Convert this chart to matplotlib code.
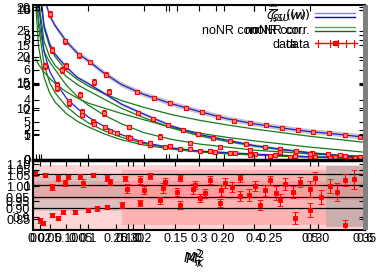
import numpy as np
import matplotlib.pyplot as plt
from matplotlib.lines import Line2D
from matplotlib.patches import Rectangle

plt.rcParams['font.family'] = ['Liberation Sans', 'DejaVu Sans']
plt.rcParams['font.size'] = 9
plt.rcParams['mathtext.fontset'] = 'dejavusans'

# --- model curves on a common M^2 grid ---
m2_grid = [0.005, 0.01, 0.02, 0.03, 0.04, 0.06, 0.08, 0.10, 0.13, 0.16, 0.20,
           0.25, 0.30, 0.35, 0.40, 0.45, 0.50, 0.55, 0.60]
fit_a = [60, 45, 31.5, 28, 26, 23, 20.7, 19.2, 16.7, 14.6, 12.7, 10.9, 9.4, 8.0, 7.0, 6.2, 5.5, 5.0, 4.4]
fit_b = [50, 36, 26, 22.5, 20.5, 18, 16, 14.8, 12.8, 10.8, 8.9, 6.6, 4.95, 3.85, 2.8, 2.05, 1.4, 0.9, 0.5]
fit_c = [40, 30, 21, 17.2, 15.2, 12, 10, 8.3, 6.4, 4.9, 3.4, 2.35, 1.75, 1.45, 1.15, 0.92, 0.65, 0.5, 0.35]
nonr_a = [45, 35, 25.5, 22, 20, 17.3, 15.6, 14.3, 12.8, 11.5, 10.2, 8.8, 7.7, 6.8, 6.0, 5.3, 4.6, 4.0, 3.4]
nonr_b = [42, 31, 23, 20, 18.3, 16.2, 14.6, 13.4, 11.7, 10, 8.2, 6.2, 4.7, 3.6, 2.7, 2.0, 1.4, 0.95, 0.55]
nonr_c = [35, 26, 18.5, 15, 13, 10.4, 8.6, 7.2, 5.6, 4.4, 3.2, 2.3, 1.7, 1.35, 1.05, 0.8, 0.6, 0.45, 0.3]
nonr_d = [30, 22, 16, 13, 11.2, 9, 7.5, 6.4, 5.0, 3.9, 2.9, 2.1, 1.55, 1.2, 0.95, 0.72, 0.55, 0.4, 0.28]
nonr_e = [19.5, 18.5, 17, 15.8, 14.8, 13.2, 12, 11, 10, 9.0, 7.8, 6.3, 5.2, 4.4, 3.7, 3.1, 2.5, 2.0, 1.5]
nonr_f = [34, 27, 21, 19, 17.5, 14.5, 12.3, 10.6, 8.6, 7.0, 5.3, 4.0, 3.1, 2.5, 1.9, 1.55, 1.2, 0.95, 0.75]

# --- data points ---
d1_x = [0.031, 0.058, 0.083, 0.103, 0.132, 0.188, 0.219, 0.248, 0.276, 0.305,
        0.334, 0.363, 0.392, 0.421, 0.450, 0.479, 0.506, 0.535, 0.564, 0.591]
d1_y = [28.3, 23.0, 20.3, 19.0, 16.5, 13.2, 12.0, 11.0, 10.1, 9.3,
        8.3, 7.5, 7.2, 6.8, 6.2, 5.8, 5.4, 5.2, 4.8, 4.5]
d2_x = [0.034, 0.060, 0.110, 0.137, 0.190, 0.217, 0.244, 0.271, 0.298, 0.325,
        0.356, 0.385, 0.420, 0.446, 0.475, 0.504, 0.533, 0.564, 0.591]
d2_y = [21.3, 18.2, 15.1, 13.2, 9.1, 7.9, 6.8, 5.8, 5.0, 4.3,
        3.7, 3.1, 2.5, 2.1, 1.7, 1.35, 1.16, 0.77, 0.58]
d3_x = [0.043, 0.065, 0.089, 0.108, 0.130, 0.152, 0.172, 0.193, 0.211, 0.239,
        0.266, 0.302, 0.329, 0.365, 0.401, 0.437, 0.474, 0.510, 0.546, 0.582]
d3_y = [14.5, 11.4, 9.3, 7.4, 6.4, 5.2, 4.5, 3.5, 2.9, 2.5,
        2.1, 1.7, 1.55, 1.35, 1.15, 0.97, 0.77, 0.58, 0.55, 0.39]
d4_x = [0.022, 0.043, 0.065, 0.089, 0.110, 0.139, 0.175, 0.211, 0.248, 0.284,
        0.320, 0.356, 0.392, 0.428, 0.464, 0.501, 0.537, 0.573]
d4_y = [18.2, 13.9, 11.0, 8.7, 7.0, 5.6, 4.3, 3.3, 2.7, 2.1,
        1.75, 1.35, 0.97, 0.77, 0.58, 0.39, 0.39, 0.19]
d5_x = [0.052, 0.085, 0.128, 0.174, 0.230, 0.284, 0.338, 0.392, 0.446, 0.501, 0.555]
d5_y = [17.4, 12.6, 9.1, 6.4, 4.5, 3.3, 2.5, 1.9, 1.55, 1.16, 0.97]
d_err = [0.6, 0.5, 0.5, 0.45, 0.45, 0.4, 0.4, 0.4, 0.35, 0.35,
         0.35, 0.3, 0.3, 0.3, 0.3, 0.3, 0.3, 0.3, 0.3, 0.3]

# --- ratio panel ---
ra_x = [0.004, 0.022, 0.045, 0.063, 0.085, 0.108, 0.134, 0.166, 0.193, 0.211, 0.239, 0.266,
        0.293, 0.320, 0.347, 0.374, 0.401, 0.428, 0.455, 0.483, 0.510, 0.537, 0.564]
ra_y = [1.039, 1.033, 1.023, 1.027, 1.027, 1.033, 1.023, 1.023, 1.017, 1.030, 1.011, 1.023,
        1.001, 1.017, 1.008, 1.023, 0.998, 1.017, 1.005, 1.011, 1.023, 0.998, 1.017]
ra_e = [0.008, 0.006, 0.010, 0.007, 0.008, 0.006, 0.010, 0.008, 0.012, 0.009, 0.011, 0.010,
        0.013, 0.012, 0.015, 0.011, 0.016, 0.014, 0.018, 0.015, 0.020, 0.022, 0.018]
rb_x = [0.034, 0.058, 0.090, 0.139, 0.170, 0.200, 0.235, 0.260, 0.290, 0.310,
        0.340, 0.360, 0.390, 0.420, 0.440, 0.470, 0.500, 0.520, 0.550, 0.580]
rb_y = [0.995, 1.008, 1.008, 1.011, 0.990, 0.985, 0.992, 0.980, 0.990, 0.975,
        0.985, 0.995, 0.970, 0.985, 0.975, 0.980, 0.990, 0.965, 0.980, 1.020]
rb_e = [0.010, 0.009, 0.012, 0.010, 0.014, 0.012, 0.015, 0.013, 0.016, 0.014,
        0.018, 0.015, 0.020, 0.017, 0.022, 0.019, 0.025, 0.022, 0.028, 0.030]
rc_x = [0.013, 0.018, 0.034, 0.045, 0.054, 0.076, 0.099, 0.116, 0.134, 0.161, 0.193,
        0.230, 0.266, 0.302, 0.338, 0.374, 0.410, 0.446, 0.473, 0.500, 0.564]
rc_y = [0.891, 0.882, 0.907, 0.898, 0.917, 0.917, 0.923, 0.929, 0.932, 0.939, 0.945,
        0.954, 0.939, 0.961, 0.945, 0.967, 0.939, 0.954, 0.898, 0.923, 0.876]
rc_e = [0.008, 0.007, 0.006, 0.006, 0.007, 0.006, 0.007, 0.008, 0.007, 0.009, 0.010,
        0.011, 0.012, 0.013, 0.014, 0.015, 0.016, 0.018, 0.020, 0.022, 0.015]
band_x = [0.0, 0.16, 0.53, 0.6]
ratio_ref = [1.037, 1.0, 0.965, 0.93]

fig = plt.figure(figsize=(3.82, 2.73), dpi=100)
L, W = 33 / 382, 332 / 382
top_rect = [L, 1 - 160 / 273, W, 155 / 273]
bot_rect = [L, 1 - 230 / 273, W, 70 / 273]


def overlay(rect, xlim, xticks, ylim, yticks, xlab=False, ylab=True):
    a = fig.add_axes(rect, facecolor='none')
    a.set_xlim(xlim)
    a.set_ylim(ylim)
    a.set_xticks(xticks)
    a.set_yticks(yticks)
    for s in a.spines.values():
        s.set_visible(False)
    a.tick_params(direction='in', top=True, right=True, length=4, pad=2,
                  labelbottom=xlab, labelleft=ylab)
    return a


# top panel
ax = fig.add_axes(top_rect)
ax.set_xlim(0, 0.6)
ax.set_ylim(0, 30)
ax.fill_between(m2_grid, np.array(fit_a) - 0.5, np.array(fit_a) + 0.5, color='#c8c8c8', lw=0)
ax.fill_between(m2_grid, np.array(fit_b) - 0.35, np.array(fit_b) + 0.35, color='#d0d0d0', lw=0)
for c in [nonr_a, nonr_b, nonr_c, nonr_d, nonr_e, nonr_f]:
    ax.plot(m2_grid, c, color='#1a7a1a', lw=0.9)
for c in [fit_a, fit_b, fit_c]:
    ax.plot(m2_grid, c, color='#2020d0', lw=0.9)
for xs, ys in [(d1_x, d1_y), (d2_x, d2_y), (d3_x, d3_y), (d4_x, d4_y), (d5_x, d5_y)]:
    ax.errorbar(xs, ys, yerr=d_err[:len(xs)], fmt='s', ms=2.5, mfc='#ff8080', mec='red',
                ecolor='red', elinewidth=0.8, capsize=1.5, mew=0.8)
ax.set_xticks([0.1, 0.2, 0.3, 0.4, 0.5])
ax.set_yticks([0, 5, 10, 15, 20, 25])
ax.tick_params(direction='in', top=True, right=True, length=4, pad=2, labelbottom=False)
for s in ax.spines.values():
    s.set_linewidth(1.5)
overlay(top_rect, (0, 0.6), [0.005, 0.01, 0.015, 0.24, 0.245, 0.26, 0.33, 0.345, 0.4, 0.42],
        (0, 10.3), [0, 2, 4, 6, 8, 10])
overlay(top_rect, (0, 0.6), [], (0, 20.3), [0, 5, 10, 15, 20])
overlay(top_rect, (0, 0.6), [], (0, 6.2), [1, 2, 3, 4, 5, 6])

# legend drawn by hand
def lx(px):
    return px / 382


def ly(py):
    return 1 - py / 273


lab1 = r'$\tilde{\zeta}_{SU}(w)$'
for dx in (0, -4):
    fig.text(lx(310 + dx), ly(15), lab1, ha='right', va='center', fontsize=9)
for xe in (310, 305, 262):
    fig.text(lx(xe), ly(31), 'noNR corr.', ha='right', va='center', fontsize=9)
for xe in (310, 297):
    fig.text(lx(xe), ly(45), 'data', ha='right', va='center', fontsize=9)
fig.add_artist(Line2D([lx(315), lx(355)], [ly(13), ly(13)], color='#8080ff', lw=1))
fig.add_artist(Line2D([lx(315), lx(355)], [ly(17), ly(17)], color='#0000d0', lw=1))
fig.add_artist(Line2D([lx(315), lx(355)], [ly(27), ly(27)], color='#60a060', lw=1))
fig.add_artist(Line2D([lx(315), lx(355)], [ly(31), ly(31)], color='#1a6a1a', lw=1))
fig.add_artist(Line2D([lx(315), lx(357)], [ly(43), ly(43)], color='red', lw=1))
for px in (318, 330, 338, 346, 354):
    fig.add_artist(Line2D([lx(px), lx(px)], [ly(40), ly(47)], color='red', lw=0.8))
fig.add_artist(Line2D([lx(335)], [ly(43)], marker='s', ms=3, color='red'))

# ratio panel
bx = fig.add_axes(bot_rect)
bx.set_xlim(0, 0.6)
bx.set_ylim(0.86, 1.08)
bx.fill_between(band_x, 0.862, 1.065, color='#ffd4d4', lw=0)
bx.fill_between(band_x[1:3], 0.875, 1.05, color='#ff8a8a', alpha=0.45, lw=0)
bx.fill_between(band_x[:2], 0.92, 1.03, color='#a0a0a0', alpha=0.35, lw=0)
bx.fill_between(band_x[2:], 0.87, 1.06, color='#908080', alpha=0.45, lw=0)
bx.fill_between(band_x, 0.955, 1.015, color='#ff6060', alpha=0.25, lw=0)
for r in ratio_ref:
    bx.axhline(r, color='black', lw=0.9)
for xs, ys, es in [(ra_x, ra_y, ra_e), (rb_x, rb_y, rb_e), (rc_x, rc_y, rc_e)]:
    bx.errorbar(xs, ys, yerr=es, fmt='s', ms=2.5, color='red', elinewidth=0.8,
                capsize=2, mew=0.6)
bx.set_xticks([0, 0.1, 0.2, 0.3, 0.4, 0.5, 0.6])
bx.set_xticklabels(['0', '0.1', '0.2', '0.3', '0.4', '0.5', '0.6'])
bx.set_yticks([0.9, 0.95, 1.0, 1.05])
bx.set_yticklabels(['0.9', '0.95', '1', '1.05'])
bx.tick_params(direction='in', top=True, right=True, length=4, pad=2)
for s in bx.spines.values():
    s.set_linewidth(1.5)
bx.spines['top'].set_linewidth(2.5)
b2 = overlay(bot_rect, (0, 0.35), [0.05, 0.1, 0.15, 0.2, 0.25, 0.3, 0.35],
             (0.8, 1.12), [0.85, 0.9, 0.95, 1.0, 1.05, 1.1], xlab=True)
b3 = overlay(bot_rect, (0, 1.0), [0.02, 0.05, 0.1, 0.25, 0.3], (0.9, 1.1), [], xlab=True)

fig.add_artist(Rectangle((lx(363), ly(230)), 5 / 382, 225 / 273, color='#808080', lw=0))

fig.text(lx(193), ly(259), r'$M^2_{\pi}$', ha='center', va='center', fontsize=10)
fig.text(lx(196), ly(260), r'$M^2_{K}$', ha='center', va='center', fontsize=10)

fig.savefig('out.png', dpi=100)
